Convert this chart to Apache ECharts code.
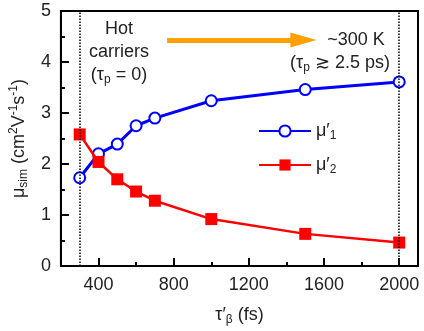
<!DOCTYPE html>
<html>
<head>
<meta charset="utf-8">
<script src="https://cdn.jsdelivr.net/npm/echarts@6/dist/echarts.min.js"></script>
<style>
  html, body { margin: 0; padding: 0; background: #fff; }
  #main { width: 424px; height: 331px; }
</style>
</head>
<body>
<div id="main"></div>
<script>
// data
var tau = [300, 400, 500, 600, 700, 1000, 1500, 2000]
var mu1 = [1.73, 2.2, 2.39, 2.75, 2.9, 3.24, 3.46, 3.61]
var mu2 = [2.58, 2.04, 1.7, 1.46, 1.28, 0.92, 0.63, 0.46]
var xMajor = [400, 800, 1200, 1600, 2000]
var xMinor = [600, 1000, 1400, 1800]
var guides = [300, 2000]

var txt = '#222'
var font = 'Liberation Sans, Arial, sans-serif'

var myChart = echarts.init(document.getElementById('main'))

function pairs (ys) {
  var out = []
  for (var i = 0; i < tau.length; i++) out.push([tau[i], ys[i]])
  return out
}

var legendRich = {
  a: { fontSize: 18, color: txt, fontFamily: font },
  s: { fontSize: 12, color: txt, fontFamily: font, padding: [10, 0, 0, 0] }
}

var option = {
  animation: false,
  backgroundColor: '#fff',
  grid: {
    left: 55, right: 6, top: 11, bottom: 64,
    show: true, borderColor: '#000', borderWidth: 2
  },
  legend: {
    orient: 'vertical',
    left: 253, top: 117,
    itemWidth: 52, itemHeight: 14, itemGap: 14,
    data: ['mu1', 'mu2'],
    formatter: function (name) {
      return name === 'mu1' ? '{a|μ′}{s|1}' : '{a|μ′}{s|2}'
    },
    textStyle: { rich: legendRich }
  },
  xAxis: [{
    type: 'value', min: 200, max: 2100,
    name: '{a|τ′}{s|β}{a| (fs)}', nameLocation: 'middle', nameGap: 38,
    nameTextStyle: { rich: {
      a: { fontSize: 18, color: txt, fontFamily: font },
      s: { fontSize: 12, color: txt, fontFamily: font, padding: [10, 0, 0, 0] }
    } },
    axisLine: { lineStyle: { color: '#000', width: 2 } },
    axisTick: { inside: true, length: 8, customValues: xMajor, lineStyle: { color: '#000', width: 2 } },
    axisLabel: {
      customValues: xMajor, fontSize: 18, color: txt, fontFamily: font, margin: 10,
      formatter: function (v) { return String(v) }
    },
    splitLine: { show: false }
  }, {
    type: 'value', min: 200, max: 2100, position: 'bottom',
    axisLine: { show: false },
    axisTick: { inside: true, length: 4, customValues: xMinor, lineStyle: { color: '#000', width: 2 } },
    axisLabel: { show: false },
    splitLine: { show: false }
  }],
  yAxis: {
    type: 'value', min: 0, max: 5, interval: 1,
    name: '{a|μ}{s|sim}{a| (cm}{p|2}{a|V}{p|-1}{a|s}{p|-1}{a|)}',
    nameLocation: 'middle', nameGap: 28, nameRotate: 90,
    nameTextStyle: { rich: {
      a: { fontSize: 18, color: txt, fontFamily: font },
      s: { fontSize: 12, color: txt, fontFamily: font, padding: [10, 0, 0, 0] },
      p: { fontSize: 12, color: txt, fontFamily: font, padding: [0, 0, 10, 0] }
    } },
    axisLine: { show: true, lineStyle: { color: '#000', width: 2 } },
    axisTick: { inside: true, length: 8, lineStyle: { color: '#000', width: 2 } },
    minorTick: { show: true, splitNumber: 2, length: 4, lineStyle: { color: '#000', width: 2 } },
    axisLabel: { fontSize: 18, color: txt, fontFamily: font, margin: 10 },
    splitLine: { show: false }
  },
  series: [{
    name: 'mu1', type: 'line', data: pairs(mu1),
    symbol: 'emptyCircle', symbolSize: 11,
    itemStyle: { color: '#0000ff', borderWidth: 1.5 },
    lineStyle: { color: '#0000ff', width: 3 },
    z: 3,
    markLine: {
      silent: true, symbol: 'none', label: { show: false },
      lineStyle: { color: '#000', type: 'dotted', width: 1.5 },
      data: guides.map(function (g) { return { xAxis: g } })
    }
  }, {
    name: 'mu2', type: 'line', data: pairs(mu2),
    symbol: 'rect', symbolSize: 12,
    itemStyle: { color: '#ff0000' },
    lineStyle: { color: '#ff0000', width: 2.5 },
    z: 4,
    markLine: {
      silent: true, symbol: ['none', 'triangle'], symbolSize: [15, 26],
      label: { show: false },
      lineStyle: { color: '#ffa000', type: 'solid', width: 5 },
      data: [[{ coord: [765, 4.43] }, { coord: [1490, 4.43] }]]
    }
  }],
  graphic: [{
    type: 'text',
    style: {
      x: 119, y: 52, align: 'center', verticalAlign: 'middle',
      text: '{a|Hot}\n{a|carriers}\n{a|(τ}{s|p}{a| = 0)}',
      rich: {
        a: { fontSize: 18, fill: txt, fontFamily: font, lineHeight: 23 },
        s: { fontSize: 12, fill: txt, fontFamily: font, padding: [10, 0, 0, 0] }
      }
    }
  }, {
    type: 'text',
    style: {
      x: 356, y: 40, align: 'center', verticalAlign: 'middle',
      text: '~300 K', font: '18px ' + font, fill: txt
    }
  }, {
    type: 'text',
    style: {
      x: 340, y: 63, align: 'center', verticalAlign: 'middle',
      text: '{a|(τ}{s|p}{a| ≳ 2.5 ps)}',
      rich: {
        a: { fontSize: 18, fill: txt, fontFamily: font },
        s: { fontSize: 12, fill: txt, fontFamily: font, padding: [10, 0, 0, 0] }
      }
    }
  }]
}

myChart.setOption(option, true)
</script>
</body>
</html>
